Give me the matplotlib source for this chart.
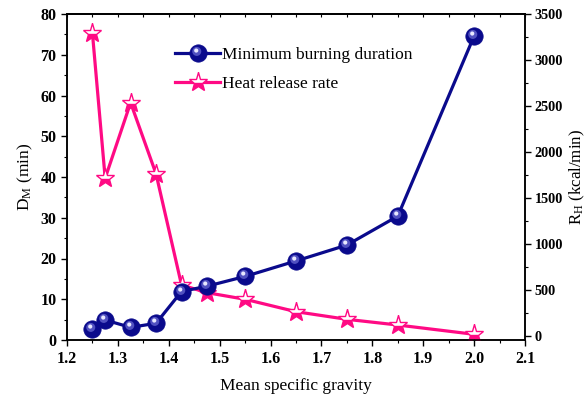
import numpy as np
import matplotlib
matplotlib.use("Agg")
import matplotlib.pyplot as plt
from matplotlib.path import Path
from matplotlib.ticker import MultipleLocator
from matplotlib.legend_handler import HandlerTuple

plt.rcParams['font.family'] = ['Liberation Serif', 'DejaVu Serif']
plt.rcParams['mathtext.fontset'] = 'custom'
plt.rcParams['mathtext.rm'] = 'Liberation Serif'
plt.rcParams['mathtext.it'] = 'Liberation Serif:italic'
plt.rcParams['mathtext.bf'] = 'Liberation Serif:bold'

# ---- data ----
gravity = [1.25, 1.275, 1.325, 1.375, 1.425, 1.475, 1.55, 1.65, 1.75, 1.85, 2.0]
burn_duration = [2.8, 4.9, 3.1, 4.1, 11.9, 13.2, 15.6, 19.4, 23.3, 30.4, 74.6]
heat_release = [3290, 1713, 2535, 1760, 552, 468, 396, 261, 178, 116, 15]

x_ticks = [1.2, 1.3, 1.4, 1.5, 1.6, 1.7, 1.8, 1.9, 2.0, 2.1]
x_tick_labels = ['1.2', '1.3', '1.4', '1.5', '1.6', '1.7', '1.8', '1.9', '2.0', '2.1']
left_ticks = [0, 10, 20, 30, 40, 50, 60, 70, 80]
right_ticks = [0, 500, 1000, 1500, 2000, 2500, 3000, 3500]

navy = '#0a0a8c'
pink = '#ff0a84'

def offset_circle(cx, cy, r):
    anchor = Path([[0.5, 0.5], [-0.5, -0.5]], [Path.MOVETO, Path.MOVETO])
    c = Path.circle((cx, cy), r)
    return Path.make_compound_path(anchor, c)

hl_mid = offset_circle(-0.10, 0.12, 0.26)
hl_top = offset_circle(-0.13, 0.17, 0.12)

fig = plt.figure(figsize=(5.88, 3.98), dpi=100)
ax = fig.add_axes([67/588, 1-340/398, (525-67)/588, (340-14)/398])
ax2 = ax.twinx()

ms = 12.5
l1, = ax.plot(gravity, burn_duration, '-', color=navy, lw=2.3, marker='o', ms=ms,
              mfc=navy, mec=navy, mew=0.5, zorder=3)
h1, = ax.plot(gravity, burn_duration, ls='none', marker=hl_mid, ms=ms, mfc='#5050c0',
              mec='none', zorder=4)
h2, = ax.plot(gravity, burn_duration, ls='none', marker=hl_top, ms=ms, mfc='#e8e8ff',
              mec='none', zorder=5)

l2, = ax2.plot(gravity, heat_release, '-', color=pink, lw=2.3, marker='*', ms=14,
               fillstyle='bottom', mfc=pink, mfcalt='white', mec=pink, mew=1.0, zorder=3)

ax.set_xlim(1.2, 2.1)
ax.set_ylim(0, 80)
ax2.set_ylim(-47, 3500)
ax.set_xticks(x_ticks)
ax.set_xticklabels(x_tick_labels)
ax.set_yticks(left_ticks)
ax2.set_yticks(right_ticks)
ax.xaxis.set_minor_locator(MultipleLocator(0.05))
ax.yaxis.set_minor_locator(MultipleLocator(5))
ax2.yaxis.set_minor_locator(MultipleLocator(250))

for a in (ax, ax2):
    for s in a.spines.values():
        s.set_linewidth(1.1)
    a.tick_params(which='major', direction='out', length=4, width=1.0, labelsize=11.5)
    a.tick_params(which='minor', direction='out', length=2.5, width=0.8)
ax2.tick_params(axis='y', labelsize=10.3, pad=3)
for a in (ax, ax2):
    for lab in a.get_xticklabels() + a.get_yticklabels():
        lab.set_fontweight('bold')

ax.tick_params(axis='x', pad=4)
top = ax.secondary_xaxis('top')
top.set_xticks(x_ticks)
top.xaxis.set_minor_locator(MultipleLocator(0.05))
top.tick_params(which='both', direction='in', length=2, width=0.8, labeltop=False)
top.spines['top'].set_linewidth(1.1)

ax.set_xlabel('Mean specific gravity', fontsize=12.5, labelpad=8)
ax.set_ylabel(r'D$_\mathregular{M}$ (min)', fontsize=12.5, labelpad=4)
ax2.set_ylabel(r'R$_\mathregular{H}$ (kcal/min)', fontsize=12.2, labelpad=3)

leg = ax.legend([(l1, h1, h2), l2], ['Minimum burning duration', 'Heat release rate'],
                handler_map={tuple: HandlerTuple(ndivide=1, pad=0)},
                loc='upper left', bbox_to_anchor=(0.236, 0.90), frameon=False,
                fontsize=12.5, handlelength=2.6, handletextpad=0.1, labelspacing=0.75,
                borderpad=0, borderaxespad=0)
ax.set_zorder(ax2.get_zorder() + 1)
ax.patch.set_visible(False)

fig.savefig('out.png', dpi=100)
